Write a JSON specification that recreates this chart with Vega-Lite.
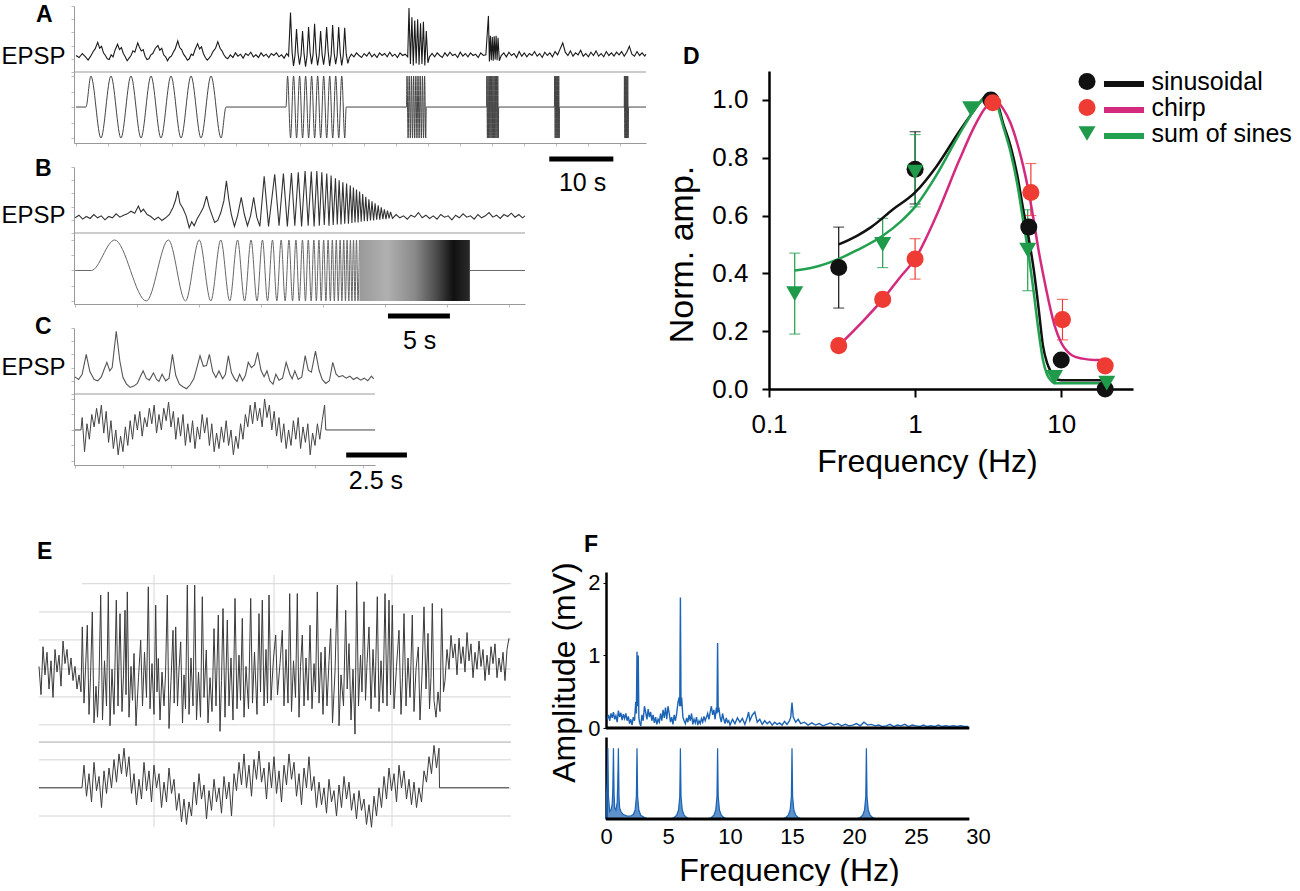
{
  "$schema": "https://vega.github.io/schema/vega-lite/v6.json",
  "padding": {"left": 0, "top": 3, "right": 0, "bottom": 0},
  "config": {
    "font": "Liberation Sans",
    "view": {"stroke": null},
    "point": {"opacity": 1},
    "axis": {"grid": false, "labelFont": "Liberation Sans", "titleFont": "Liberation Sans", "labelColor": "#000", "titleColor": "#000", "titleFontWeight": "normal"},
    "title": {"font": "Liberation Sans", "fontSize": 23, "fontWeight": "bold", "anchor": "start", "frame": "group", "baseline": "alphabetic", "color": "#000"},
    "style": {"group-title": {"fontSize": 23, "fontWeight": "bold"}},
    "legend": {"labelFont": "Liberation Sans", "labelColor": "#000", "symbolOpacity": 1},
    "text": {"font": "Liberation Sans"}
  },
  "spacing": 38,
  "resolve": {"scale": {"color": "independent", "shape": "independent", "stroke": "independent"}},
  "vconcat": [
    {
      "spacing": 16,
      "resolve": {"scale": {"color": "independent", "shape": "independent", "stroke": "independent"}},
      "hconcat": [
        {
          "spacing": 24,
          "bounds": "flush",
          "vconcat": [
            {
              "width": 572, "height": 137,
              "title": {"text": "A", "offset": -21, "dx": -38, "fontSize": 23},
              "resolve": {"scale": {"y": "independent"}},
              "layer": [
                {
                  "data": {"values": [
{"t":0,"v":2.5},{"t":0.5,"v":2.2},{"t":1,"v":2.8},{"t":1.5,"v":2.3},{"t":1.9,"v":1.8},{"t":2.3,"v":2.4},{"t":2.7,"v":3.1},{"t":3,"v":3.5},{"t":3.4,"v":4.5},{"t":3.7,"v":3.6},{"t":4,"v":3.9},{"t":4.3,"v":2.9},{"t":4.6,"v":2.5},{"t":4.9,"v":2.0},{"t":5.2,"v":1.9},{"t":5.5,"v":2.6},{"t":5.8,"v":2.3},{"t":6.1,"v":3.3},{"t":6.5,"v":4.2},{"t":6.8,"v":3.4},{"t":7.1,"v":3.7},{"t":7.4,"v":2.8},{"t":7.7,"v":2.3},{"t":8,"v":1.7},{"t":8.3,"v":2.1},{"t":8.6,"v":2.5},{"t":8.9,"v":3.2},{"t":9.2,"v":3.0},{"t":9.65,"v":4.4},{"t":9.9,"v":3.8},{"t":10.2,"v":3.2},{"t":10.5,"v":3.4},{"t":10.8,"v":2.4},{"t":11.1,"v":1.9},{"t":11.4,"v":2.0},{"t":11.7,"v":2.6},{"t":12,"v":2.8},{"t":12.4,"v":3.6},{"t":12.8,"v":4.0},{"t":13.1,"v":3.3},{"t":13.4,"v":3.6},{"t":13.7,"v":2.6},{"t":14,"v":2.3},{"t":14.3,"v":1.7},{"t":14.6,"v":2.2},{"t":14.9,"v":2.4},{"t":15.2,"v":3.0},{"t":15.5,"v":3.5},{"t":15.9,"v":4.7},{"t":16.2,"v":3.7},{"t":16.5,"v":3.4},{"t":16.8,"v":2.7},{"t":17.1,"v":2.3},{"t":17.4,"v":1.8},{"t":17.7,"v":2.0},{"t":18,"v":2.7},{"t":18.3,"v":2.5},{"t":18.6,"v":3.4},{"t":19,"v":4.3},{"t":19.3,"v":3.5},{"t":19.6,"v":3.8},{"t":19.9,"v":2.8},{"t":20.2,"v":2.2},{"t":20.5,"v":1.8},{"t":20.8,"v":2.1},{"t":21.1,"v":2.5},{"t":21.4,"v":3.1},{"t":21.8,"v":3.6},{"t":22.15,"v":4.6},{"t":22.5,"v":3.6},{"t":22.8,"v":3.2},{"t":23.1,"v":2.6},{"t":23.4,"v":2.2},{"t":23.7,"v":2.0},{"t":24.1,"v":2.6},{"t":24.5,"v":2.2},{"t":24.9,"v":2.9},{"t":25.3,"v":2.4},{"t":25.7,"v":2.7},{"t":26.1,"v":2.1},{"t":26.5,"v":2.8},{"t":26.9,"v":2.5},{"t":27.3,"v":3.0},{"t":27.7,"v":2.3},{"t":28.1,"v":2.6},{"t":28.5,"v":2.2},{"t":28.9,"v":2.9},{"t":29.3,"v":2.4},{"t":29.7,"v":2.7},{"t":30.1,"v":2.2},{"t":30.5,"v":2.8},{"t":30.9,"v":2.5},{"t":31.3,"v":2.9},{"t":31.7,"v":2.3},{"t":32.1,"v":2.6},{"t":32.5,"v":2.1},{"t":32.9,"v":2.8},{"t":33.2,"v":2.4},{"t":33.5,"v":9.0},{"t":33.75,"v":3.0},{"t":33.97,"v":0.9},{"t":34.2,"v":2.5},{"t":34.44,"v":6.5},{"t":34.68,"v":2.8},{"t":34.91,"v":1.1},{"t":35.15,"v":2.6},{"t":35.38,"v":6.2},{"t":35.62,"v":2.7},{"t":35.85,"v":0.8},{"t":36.08,"v":2.4},{"t":36.32,"v":6.8},{"t":36.56,"v":3.0},{"t":36.79,"v":1.2},{"t":37.03,"v":2.7},{"t":37.26,"v":7.3},{"t":37.5,"v":2.9},{"t":37.73,"v":1.0},{"t":37.97,"v":2.5},{"t":38.2,"v":6.2},{"t":38.44,"v":2.6},{"t":38.67,"v":1.1},{"t":38.9,"v":2.8},{"t":39.14,"v":6.8},{"t":39.38,"v":3.1},{"t":39.61,"v":0.9},{"t":39.85,"v":2.6},{"t":40.08,"v":7.1},{"t":40.32,"v":2.8},{"t":40.55,"v":1.2},{"t":40.78,"v":2.5},{"t":41.02,"v":6.8},{"t":41.26,"v":2.9},{"t":41.49,"v":1.0},{"t":41.72,"v":2.4},{"t":41.96,"v":6.7},{"t":42.2,"v":2.7},{"t":42.45,"v":1.3},{"t":42.7,"v":2.2},{"t":43,"v":2.7},{"t":43.4,"v":2.3},{"t":43.8,"v":2.9},{"t":44.2,"v":2.5},{"t":44.6,"v":2.2},{"t":45,"v":2.8},{"t":45.4,"v":2.4},{"t":45.8,"v":3.0},{"t":46.2,"v":2.3},{"t":46.6,"v":2.7},{"t":47,"v":2.2},{"t":47.4,"v":2.9},{"t":47.8,"v":2.5},{"t":48.2,"v":2.8},{"t":48.6,"v":2.3},{"t":49,"v":3.0},{"t":49.4,"v":2.4},{"t":49.8,"v":2.7},{"t":50.2,"v":2.2},{"t":50.6,"v":2.9},{"t":51,"v":2.5},{"t":51.4,"v":2.7},{"t":51.8,"v":2.3},{"t":52,"v":9.7},{"t":52.22,"v":1.2},{"t":52.45,"v":8.3},{"t":52.67,"v":1.0},{"t":52.9,"v":7.8},{"t":53.12,"v":1.3},{"t":53.35,"v":8.0},{"t":53.57,"v":1.1},{"t":53.8,"v":7.4},{"t":54.02,"v":1.2},{"t":54.25,"v":7.6},{"t":54.47,"v":1.0},{"t":54.7,"v":6.2},{"t":54.95,"v":1.4},{"t":55.2,"v":2.3},{"t":55.6,"v":2.8},{"t":56,"v":2.3},{"t":56.4,"v":2.9},{"t":56.8,"v":2.5},{"t":57.2,"v":2.2},{"t":57.6,"v":2.9},{"t":58,"v":2.4},{"t":58.4,"v":3.0},{"t":58.8,"v":2.5},{"t":59.2,"v":2.7},{"t":59.6,"v":2.2},{"t":60,"v":3.0},{"t":60.4,"v":2.4},{"t":60.8,"v":2.8},{"t":61.2,"v":2.3},{"t":61.6,"v":2.9},{"t":62,"v":2.5},{"t":62.4,"v":2.7},{"t":62.8,"v":2.2},{"t":63.2,"v":2.9},{"t":63.6,"v":2.5},{"t":64,"v":2.6},{"t":64.4,"v":8.5},{"t":64.55,"v":1.6},{"t":64.7,"v":5.5},{"t":64.85,"v":1.8},{"t":65,"v":5.3},{"t":65.15,"v":1.7},{"t":65.3,"v":5.4},{"t":65.45,"v":1.9},{"t":65.6,"v":5.5},{"t":65.75,"v":1.8},{"t":65.9,"v":5.2},{"t":66.1,"v":1.7},{"t":66.4,"v":2.5},{"t":66.8,"v":2.9},{"t":67.2,"v":2.3},{"t":67.6,"v":3.0},{"t":68,"v":2.5},{"t":68.4,"v":2.8},{"t":68.8,"v":2.2},{"t":69.2,"v":3.1},{"t":69.6,"v":2.4},{"t":70,"v":2.9},{"t":70.4,"v":2.3},{"t":70.8,"v":2.8},{"t":71.2,"v":2.5},{"t":71.6,"v":3.1},{"t":72,"v":2.4},{"t":72.4,"v":2.8},{"t":72.8,"v":2.2},{"t":73.2,"v":3.0},{"t":73.6,"v":2.5},{"t":74,"v":2.9},{"t":74.4,"v":2.3},{"t":74.8,"v":3.1},{"t":75.2,"v":2.6},{"t":75.6,"v":3.5},{"t":76,"v":4.4},{"t":76.4,"v":3.0},{"t":76.8,"v":2.5},{"t":77.2,"v":3.2},{"t":77.6,"v":2.4},{"t":78,"v":2.9},{"t":78.4,"v":2.6},{"t":78.8,"v":3.3},{"t":79.2,"v":2.4},{"t":79.6,"v":2.8},{"t":80,"v":2.3},{"t":80.4,"v":3.0},{"t":80.8,"v":2.5},{"t":81.2,"v":3.2},{"t":81.6,"v":2.4},{"t":82,"v":2.8},{"t":82.4,"v":2.3},{"t":82.8,"v":3.1},{"t":83.2,"v":2.5},{"t":83.6,"v":2.9},{"t":84,"v":2.4},{"t":84.4,"v":3.0},{"t":84.8,"v":2.6},{"t":85.2,"v":3.1},{"t":85.6,"v":2.4},{"t":86,"v":3.0},{"t":86.4,"v":3.9},{"t":86.8,"v":2.7},{"t":87.2,"v":2.4},{"t":87.6,"v":3.1},{"t":88,"v":2.5},{"t":88.4,"v":2.9},{"t":88.8,"v":2.4},{"t":89,"v":2.7}
                  ]},
                  "mark": {"type": "line", "color": "#1a1a1a", "strokeWidth": 1.1},
                  "encoding": {
                    "x": {"field": "t", "type": "quantitative", "scale": {"domain": [-0.3, 89], "nice": false}, "axis": {"title": null, "labels": false, "tickCount": 14, "tickSize": 3, "domainColor": "#999", "tickColor": "#bbb"}},
                    "y": {"field": "v", "type": "quantitative", "scale": {"domain": [0, 10], "range": [66, 0], "nice": false}, "axis": {"orient": "left", "title": "EPSP", "titleAngle": 0, "titleAlign": "right", "titleBaseline": "middle", "titleX": -9, "titleY": 50, "titleFontSize": 24, "labels": false, "tickCount": 6, "tickSize": 3, "domainColor": "#999", "tickColor": "#bbb"}}
                  }
                },
                {
                  "layer": [
                    {
                      "data": {"values": [
{"t":0,"v":0},{"t":1.56,"v":0},{"t":2.34,"v":1},{"t":3.91,"v":-1},{"t":5.47,"v":1},{"t":7.03,"v":-1},{"t":8.59,"v":1},{"t":10.16,"v":-1},{"t":11.72,"v":1},{"t":13.28,"v":-1},{"t":14.84,"v":1},{"t":16.41,"v":-1},{"t":17.97,"v":1},{"t":19.53,"v":-1},{"t":21.09,"v":1},{"t":22.66,"v":-1},{"t":23.44,"v":0},{"t":32.8,"v":0},
{"t":33.04,"v":1},{"t":33.51,"v":-1},{"t":33.98,"v":1},{"t":34.45,"v":-1},{"t":34.92,"v":1},{"t":35.39,"v":-1},{"t":35.86,"v":1},{"t":36.33,"v":-1},{"t":36.8,"v":1},{"t":37.27,"v":-1},{"t":37.74,"v":1},{"t":38.21,"v":-1},{"t":38.68,"v":1},{"t":39.15,"v":-1},{"t":39.62,"v":1},{"t":40.09,"v":-1},{"t":40.56,"v":1},{"t":41.03,"v":-1},{"t":41.5,"v":1},{"t":41.97,"v":-1},{"t":42.2,"v":0},{"t":51.6,"v":0},
{"t":51.69,"v":1},{"t":51.86,"v":-1},{"t":52.03,"v":1},{"t":52.21,"v":-1},{"t":52.38,"v":1},{"t":52.55,"v":-1},{"t":52.72,"v":1},{"t":52.89,"v":-1},{"t":53.07,"v":1},{"t":53.24,"v":-1},{"t":53.41,"v":1},{"t":53.58,"v":-1},{"t":53.75,"v":1},{"t":53.93,"v":-1},{"t":54.1,"v":1},{"t":54.27,"v":-1},{"t":54.44,"v":1},{"t":54.61,"v":-1},{"t":54.7,"v":0},{"t":64.1,"v":0},
{"t":64.15,"v":1},{"t":64.24,"v":-1},{"t":64.34,"v":1},{"t":64.43,"v":-1},{"t":64.53,"v":1},{"t":64.62,"v":-1},{"t":64.72,"v":1},{"t":64.81,"v":-1},{"t":64.91,"v":1},{"t":65.0,"v":-1},{"t":65.1,"v":1},{"t":65.19,"v":-1},{"t":65.29,"v":1},{"t":65.38,"v":-1},{"t":65.48,"v":1},{"t":65.57,"v":-1},{"t":65.67,"v":1},{"t":65.76,"v":-1},{"t":65.86,"v":1},{"t":65.95,"v":-1},{"t":66.0,"v":0},{"t":74.7,"v":0},
{"t":74.74,"v":1},{"t":74.82,"v":-1},{"t":74.9,"v":1},{"t":74.98,"v":-1},{"t":75.06,"v":1},{"t":75.14,"v":-1},{"t":75.22,"v":1},{"t":75.3,"v":-1},{"t":75.38,"v":1},{"t":75.46,"v":-1},{"t":75.5,"v":0},{"t":85.6,"v":0},
{"t":85.63,"v":1},{"t":85.7,"v":-1},{"t":85.76,"v":1},{"t":85.83,"v":-1},{"t":85.89,"v":1},{"t":85.96,"v":-1},{"t":86.02,"v":1},{"t":86.09,"v":-1},{"t":86.15,"v":1},{"t":86.22,"v":-1},{"t":86.28,"v":0},{"t":89,"v":0}
                      ]},
                      "mark": {"type": "line", "color": "#444", "strokeWidth": 1, "interpolate": "monotone"},
                      "encoding": {
                        "x": {"field": "t", "type": "quantitative", "title": null},
                        "y": {"field": "v", "type": "quantitative", "scale": {"domain": [-1.16, 1.13], "range": [137, 66], "nice": false}, "axis": {"orient": "left", "title": ["Light", "stim."], "titleAngle": 0, "titleAlign": "right", "titleBaseline": "alphabetic", "titleX": -1, "titleY": 92, "titleLineHeight": 31, "titleFontSize": 24, "labels": false, "tickCount": 6, "tickSize": 3, "domainColor": "#999", "tickColor": "#bbb"}}
                      }
                    },
                    {
                      "data": {"values": [{}]},
                      "mark": {"type": "rule", "color": "#999", "strokeWidth": 1},
                      "encoding": {"y": {"datum": 1.13}}
                    },
                    {
                      "data": {"values": [{"t": 73.9, "t2": 83.9, "v": -1.68}]},
                      "mark": {"type": "rule", "color": "#000", "strokeWidth": 5},
                      "encoding": {
                        "x": {"field": "t", "type": "quantitative", "title": null},
                        "x2": {"field": "t2", "title": null},
                        "y": {"field": "v", "type": "quantitative", "title": null}
                      }
                    },
                    {
                      "data": {"values": [{"t": 79.1, "v": -2.45, "label": "10 s"}]},
                      "mark": {"type": "text", "fontSize": 25, "align": "center", "baseline": "middle", "color": "#000"},
                      "encoding": {
                        "x": {"field": "t", "type": "quantitative", "title": null},
                        "y": {"field": "v", "type": "quantitative", "title": null},
                        "text": {"field": "label"}
                      }
                    }
                  ]
                }
              ]
            },
            {
              "width": 451, "height": 137,
              "title": {"text": "B", "offset": -14, "dx": -39, "fontSize": 23},
              "resolve": {"scale": {"y": "independent"}},
              "layer": [
                {
                  "data": {"values": [
{"t":0,"v":2.3},{"t":0.3,"v":2.7},{"t":0.6,"v":2.1},{"t":0.9,"v":2.5},{"t":1.2,"v":2.2},{"t":1.5,"v":2.8},{"t":1.8,"v":2.3},{"t":2.1,"v":2.6},{"t":2.4,"v":2.0},{"t":2.7,"v":2.5},{"t":3.0,"v":2.3},{"t":3.3,"v":2.9},{"t":3.6,"v":2.4},{"t":3.9,"v":2.7},{"t":4.2,"v":2.9},{"t":4.5,"v":3.3},{"t":4.8,"v":3.0},{"t":5.1,"v":4.1},{"t":5.3,"v":3.2},{"t":5.5,"v":3.6},{"t":5.8,"v":2.8},{"t":6.1,"v":2.5},{"t":6.4,"v":2.0},{"t":6.7,"v":2.4},{"t":7.0,"v":1.9},{"t":7.3,"v":2.3},{"t":7.6,"v":2.8},{"t":7.9,"v":3.9},{"t":8.1,"v":5.0},{"t":8.27,"v":6.4},{"t":8.45,"v":4.5},{"t":8.7,"v":3.7},{"t":8.95,"v":2.6},{"t":9.2,"v":0.8},{"t":9.4,"v":1.7},{"t":9.6,"v":1.1},{"t":9.85,"v":2.2},{"t":10.1,"v":3.0},{"t":10.35,"v":3.9},{"t":10.6,"v":5.6},{"t":10.8,"v":4.0},{"t":11.0,"v":2.9},{"t":11.25,"v":1.6},{"t":11.5,"v":1.9},{"t":11.75,"v":3.1},{"t":12.0,"v":4.9},{"t":12.2,"v":7.9},{"t":12.4,"v":5.0},{"t":12.6,"v":2.8},{"t":12.85,"v":1.0},{"t":13.1,"v":2.6},{"t":13.4,"v":5.4},{"t":13.65,"v":2.8},{"t":13.9,"v":1.1},{"t":14.15,"v":2.6},{"t":14.4,"v":5.4},{"t":14.65,"v":2.4},{"t":14.9,"v":1.0},{"t":15.25,"v":8.6},{"t":15.6,"v":1.0},{"t":16.1,"v":8.9},{"t":16.45,"v":1.1},{"t":16.8,"v":9.0},{"t":17.12,"v":1.0},{"t":17.45,"v":9.1},{"t":17.72,"v":1.1},{"t":18.0,"v":9.2},{"t":18.27,"v":1.0},{"t":18.55,"v":9.4},{"t":18.8,"v":1.1},{"t":19.05,"v":9.3},{"t":19.28,"v":1.0},{"t":19.5,"v":9.4},{"t":19.7,"v":1.1},{"t":19.9,"v":9.2},{"t":20.1,"v":1.2},{"t":20.3,"v":9.0},{"t":20.48,"v":1.1},{"t":20.65,"v":8.7},{"t":20.82,"v":1.2},{"t":21.0,"v":8.3},{"t":21.15,"v":1.3},{"t":21.3,"v":8.0},{"t":21.45,"v":1.3},{"t":21.6,"v":7.7},{"t":21.75,"v":1.4},{"t":21.9,"v":7.5},{"t":22.05,"v":1.4},{"t":22.2,"v":7.2},{"t":22.33,"v":1.5},{"t":22.45,"v":6.9},{"t":22.58,"v":1.6},{"t":22.7,"v":6.6},{"t":22.83,"v":1.6},{"t":22.95,"v":6.3},{"t":23.08,"v":1.7},{"t":23.2,"v":5.9},{"t":23.33,"v":1.8},{"t":23.45,"v":5.5},{"t":23.58,"v":1.8},{"t":23.7,"v":5.1},{"t":23.83,"v":1.9},{"t":23.95,"v":4.8},{"t":24.08,"v":1.9},{"t":24.2,"v":4.5},{"t":24.33,"v":2.0},{"t":24.45,"v":4.2},{"t":24.58,"v":2.0},{"t":24.7,"v":3.9},{"t":24.83,"v":2.1},{"t":24.95,"v":3.6},{"t":25.08,"v":2.1},{"t":25.2,"v":3.4},{"t":25.33,"v":2.2},{"t":25.45,"v":3.2},{"t":25.6,"v":2.2},{"t":25.9,"v":2.8},{"t":26.2,"v":2.3},{"t":26.5,"v":2.6},{"t":26.8,"v":2.1},{"t":27.1,"v":2.7},{"t":27.4,"v":2.4},{"t":27.7,"v":3.1},{"t":28.0,"v":2.3},{"t":28.3,"v":2.7},{"t":28.6,"v":2.2},{"t":28.9,"v":2.6},{"t":29.2,"v":2.1},{"t":29.5,"v":2.8},{"t":29.8,"v":2.4},{"t":30.1,"v":2.6},{"t":30.4,"v":2.0},{"t":30.7,"v":2.7},{"t":31.0,"v":2.3},{"t":31.3,"v":2.9},{"t":31.6,"v":2.4},{"t":31.9,"v":2.6},{"t":32.2,"v":2.1},{"t":32.5,"v":2.8},{"t":32.8,"v":2.3},{"t":33.1,"v":2.6},{"t":33.4,"v":3.1},{"t":33.7,"v":2.4},{"t":34.0,"v":2.7},{"t":34.3,"v":2.2},{"t":34.6,"v":2.8},{"t":34.9,"v":2.5},{"t":35.2,"v":3.0},{"t":35.5,"v":2.4},{"t":35.8,"v":2.8},{"t":36.1,"v":2.3},{"t":36.3,"v":2.6}
                  ]},
                  "mark": {"type": "line", "color": "#333", "strokeWidth": 1.1},
                  "encoding": {
                    "x": {"field": "t", "type": "quantitative", "scale": {"domain": [-0.1, 36.3], "nice": false}, "axis": {"title": null, "labels": false, "tickCount": 10, "tickSize": 3, "domainColor": "#999", "tickColor": "#bbb"}},
                    "y": {"field": "v", "type": "quantitative", "scale": {"domain": [0, 10], "range": [66, 0], "nice": false}, "axis": {"orient": "left", "title": "EPSP", "titleAngle": 0, "titleAlign": "right", "titleBaseline": "middle", "titleX": -9, "titleY": 48, "titleFontSize": 24, "labels": false, "tickCount": 6, "tickSize": 3, "domainColor": "#999", "tickColor": "#bbb"}}
                  }
                },
                {
                  "layer": [
                    {
                      "data": {"values": [
{"t":0,"v":0,"seg":1},{"t":1.3,"v":0,"seg":1},{"t":3.18,"v":1,"seg":1},{"t":5.74,"v":-1,"seg":1},{"t":7.52,"v":1,"seg":1},{"t":8.9,"v":-1,"seg":1},{"t":10.01,"v":1,"seg":1},{"t":10.94,"v":-1,"seg":1},{"t":11.75,"v":1,"seg":1},{"t":12.47,"v":-1,"seg":1},{"t":13.1,"v":1,"seg":1},{"t":13.67,"v":-1,"seg":1},{"t":14.19,"v":1,"seg":1},{"t":14.67,"v":-1,"seg":1},{"t":15.11,"v":1,"seg":1},{"t":15.52,"v":-1,"seg":1},{"t":15.92,"v":1,"seg":1},{"t":16.27,"v":-1,"seg":1},{"t":16.62,"v":1,"seg":1},{"t":16.94,"v":-1,"seg":1},{"t":17.25,"v":1,"seg":1},{"t":17.54,"v":-1,"seg":1},{"t":17.81,"v":1,"seg":1},{"t":18.08,"v":-1,"seg":1},{"t":18.34,"v":1,"seg":1},{"t":18.58,"v":-1,"seg":1},{"t":18.81,"v":1,"seg":1},{"t":19.04,"v":-1,"seg":1},{"t":19.26,"v":1,"seg":1},{"t":19.46,"v":-1,"seg":1},{"t":19.67,"v":1,"seg":1},{"t":19.85,"v":-1,"seg":1},{"t":20.05,"v":1,"seg":1},{"t":20.23,"v":-1,"seg":1},{"t":20.41,"v":1,"seg":1},{"t":20.59,"v":-1,"seg":1},{"t":20.75,"v":1,"seg":1},{"t":20.91,"v":-1,"seg":1},{"t":21.07,"v":1,"seg":1},{"t":21.23,"v":-1,"seg":1},{"t":21.38,"v":1,"seg":1},{"t":21.52,"v":-1,"seg":1},{"t":21.67,"v":1,"seg":1},{"t":21.81,"v":-1,"seg":1},{"t":21.94,"v":1,"seg":1},{"t":22.08,"v":-1,"seg":1},{"t":22.21,"v":1,"seg":1},{"t":22.33,"v":-1,"seg":1},{"t":22.46,"v":1,"seg":1},{"t":22.58,"v":-1,"seg":1},{"t":22.7,"v":1,"seg":1},{"t":22.82,"v":-1,"seg":1},{"t":22.94,"v":1,"seg":1},
{"t":31.85,"v":0,"seg":2},{"t":36.3,"v":0,"seg":2}
                      ]},
                      "mark": {"type": "line", "color": "#666", "strokeWidth": 1, "interpolate": "monotone"},
                      "encoding": {
                        "x": {"field": "t", "type": "quantitative", "title": null},
                        "y": {"field": "v", "type": "quantitative", "scale": {"domain": [-1.1, 1.23], "range": [137, 66], "nice": false}, "axis": {"orient": "left", "title": ["Light", "stim."], "titleAngle": 0, "titleAlign": "right", "titleBaseline": "alphabetic", "titleX": -1, "titleY": 93, "titleLineHeight": 32, "titleFontSize": 24, "labels": false, "tickCount": 6, "tickSize": 3, "domainColor": "#999", "tickColor": "#bbb"}},
                        "detail": {"field": "seg"}
                      }
                    },
                    {
                      "data": {"values": [{"t": 22.94, "t2": 31.85, "v": -1, "v2": 1}]},
                      "mark": {"type": "rect", "fill": {"gradient": "linear", "x1": 0, "y1": 0, "x2": 1, "y2": 0, "stops": [{"offset": 0, "color": "#9a9a9a"}, {"offset": 0.25, "color": "#b0b0b0"}, {"offset": 0.5, "color": "#8a8a8a"}, {"offset": 0.7, "color": "#4a4a4a"}, {"offset": 0.85, "color": "#111111"}, {"offset": 1, "color": "#2a2a2a"}]}},
                      "encoding": {
                        "x": {"field": "t", "type": "quantitative", "title": null},
                        "x2": {"field": "t2", "title": null},
                        "y": {"field": "v", "type": "quantitative", "title": null},
                        "y2": {"field": "v2", "title": null}
                      }
                    },
                    {
                      "data": {"values": [{}]},
                      "mark": {"type": "rule", "color": "#999", "strokeWidth": 1},
                      "encoding": {"y": {"datum": 1.23}}
                    },
                    {
                      "data": {"values": [{"t": 25.24, "t2": 30.24, "v": -1.49}]},
                      "mark": {"type": "rule", "color": "#000", "strokeWidth": 5},
                      "encoding": {
                        "x": {"field": "t", "type": "quantitative", "title": null},
                        "x2": {"field": "t2", "title": null},
                        "y": {"field": "v", "type": "quantitative", "title": null}
                      }
                    },
                    {
                      "data": {"values": [{"t": 27.8, "v": -2.32, "label": "5 s"}]},
                      "mark": {"type": "text", "fontSize": 25, "align": "center", "baseline": "middle", "color": "#000"},
                      "encoding": {
                        "x": {"field": "t", "type": "quantitative", "title": null},
                        "y": {"field": "v", "type": "quantitative", "title": null},
                        "text": {"field": "label"}
                      }
                    }
                  ]
                }
              ]
            },
            {
              "width": 301, "height": 137,
              "title": {"text": "C", "offset": -11, "dx": -39, "fontSize": 23},
              "resolve": {"scale": {"y": "independent"}},
              "layer": [
                {
                  "data": {"values": [
{"t":0,"v":2.6},{"t":0.15,"v":2.2},{"t":0.3,"v":3.0},{"t":0.47,"v":6.0},{"t":0.62,"v":3.4},{"t":0.8,"v":2.2},{"t":0.95,"v":2.0},{"t":1.1,"v":2.6},{"t":1.2,"v":3.6},{"t":1.33,"v":4.8},{"t":1.45,"v":3.5},{"t":1.55,"v":4.0},{"t":1.72,"v":9.5},{"t":1.87,"v":5.0},{"t":2.0,"v":2.5},{"t":2.15,"v":1.5},{"t":2.3,"v":1.0},{"t":2.45,"v":1.2},{"t":2.6,"v":1.6},{"t":2.72,"v":2.6},{"t":2.84,"v":3.5},{"t":2.97,"v":2.4},{"t":3.1,"v":2.1},{"t":3.27,"v":3.2},{"t":3.4,"v":2.2},{"t":3.5,"v":1.9},{"t":3.63,"v":3.0},{"t":3.78,"v":2.0},{"t":3.92,"v":2.4},{"t":4.06,"v":6.0},{"t":4.2,"v":2.8},{"t":4.35,"v":1.5},{"t":4.5,"v":1.1},{"t":4.65,"v":0.8},{"t":4.8,"v":1.4},{"t":4.95,"v":2.3},{"t":5.08,"v":4.0},{"t":5.21,"v":5.8},{"t":5.35,"v":4.2},{"t":5.48,"v":4.3},{"t":5.6,"v":6.0},{"t":5.74,"v":3.4},{"t":5.87,"v":2.5},{"t":6.0,"v":3.5},{"t":6.15,"v":2.3},{"t":6.27,"v":3.0},{"t":6.39,"v":5.8},{"t":6.52,"v":3.2},{"t":6.65,"v":2.3},{"t":6.75,"v":1.9},{"t":6.86,"v":3.0},{"t":6.98,"v":2.0},{"t":7.1,"v":2.8},{"t":7.22,"v":4.8},{"t":7.35,"v":4.0},{"t":7.48,"v":4.4},{"t":7.61,"v":6.3},{"t":7.75,"v":3.6},{"t":7.88,"v":2.6},{"t":8.0,"v":3.5},{"t":8.12,"v":2.0},{"t":8.25,"v":1.5},{"t":8.37,"v":3.0},{"t":8.5,"v":2.1},{"t":8.65,"v":2.4},{"t":8.8,"v":4.8},{"t":8.95,"v":3.0},{"t":9.05,"v":2.3},{"t":9.16,"v":3.5},{"t":9.3,"v":2.2},{"t":9.45,"v":2.6},{"t":9.59,"v":5.8},{"t":9.72,"v":3.6},{"t":9.85,"v":3.3},{"t":10.02,"v":6.5},{"t":10.17,"v":3.6},{"t":10.3,"v":2.2},{"t":10.45,"v":1.6},{"t":10.6,"v":2.0},{"t":10.74,"v":4.8},{"t":10.88,"v":3.0},{"t":11.0,"v":2.6},{"t":11.15,"v":2.8},{"t":11.3,"v":2.4},{"t":11.45,"v":2.7},{"t":11.6,"v":2.2},{"t":11.75,"v":2.5},{"t":11.9,"v":2.1},{"t":12.05,"v":2.4},{"t":12.2,"v":2.0},{"t":12.35,"v":2.7},{"t":12.45,"v":2.3}
                  ]},
                  "mark": {"type": "line", "color": "#555", "strokeWidth": 1.1},
                  "encoding": {
                    "x": {"field": "t", "type": "quantitative", "scale": {"domain": [-0.04, 12.5], "nice": false}, "axis": {"title": null, "labels": false, "tickCount": 8, "tickSize": 3, "domainColor": "#999", "tickColor": "#bbb"}},
                    "y": {"field": "v", "type": "quantitative", "scale": {"domain": [0, 10], "range": [66, 0], "nice": false}, "axis": {"orient": "left", "title": "EPSP", "titleAngle": 0, "titleAlign": "right", "titleBaseline": "middle", "titleX": -9, "titleY": 39, "titleFontSize": 24, "labels": false, "tickCount": 6, "tickSize": 3, "domainColor": "#999", "tickColor": "#bbb"}}
                  }
                },
                {
                  "layer": [
                    {
                      "data": {"values": [
{"t":0,"v":0},{"t":0.25,"v":0},{"t":0.3,"v":0.4},{"t":0.4,"v":-0.7},{"t":0.5,"v":0.2},{"t":0.6,"v":-0.3},{"t":0.7,"v":0.5},{"t":0.8,"v":0.1},{"t":0.9,"v":0.7},{"t":1.0,"v":0.2},{"t":1.1,"v":0.8},{"t":1.2,"v":-0.1},{"t":1.3,"v":0.6},{"t":1.4,"v":-0.4},{"t":1.5,"v":0.3},{"t":1.6,"v":-0.6},{"t":1.7,"v":0.0},{"t":1.8,"v":-0.8},{"t":1.9,"v":-0.2},{"t":2.0,"v":-0.7},{"t":2.1,"v":0.1},{"t":2.2,"v":-0.5},{"t":2.3,"v":0.3},{"t":2.4,"v":-0.3},{"t":2.5,"v":0.5},{"t":2.6,"v":0.0},{"t":2.7,"v":0.6},{"t":2.8,"v":-0.2},{"t":2.9,"v":0.4},{"t":3.0,"v":0.1},{"t":3.1,"v":0.7},{"t":3.2,"v":0.2},{"t":3.3,"v":0.8},{"t":3.4,"v":-0.1},{"t":3.5,"v":0.5},{"t":3.6,"v":0.0},{"t":3.7,"v":0.7},{"t":3.8,"v":0.3},{"t":3.9,"v":0.9},{"t":4.0,"v":0.1},{"t":4.1,"v":0.6},{"t":4.2,"v":-0.3},{"t":4.3,"v":0.4},{"t":4.4,"v":-0.2},{"t":4.5,"v":0.5},{"t":4.6,"v":-0.5},{"t":4.7,"v":0.2},{"t":4.8,"v":-0.4},{"t":4.9,"v":0.3},{"t":5.0,"v":-0.6},{"t":5.1,"v":0.1},{"t":5.2,"v":-0.3},{"t":5.3,"v":0.5},{"t":5.4,"v":-0.1},{"t":5.5,"v":0.4},{"t":5.6,"v":-0.5},{"t":5.7,"v":0.2},{"t":5.8,"v":-0.7},{"t":5.9,"v":-0.1},{"t":6.0,"v":-0.6},{"t":6.1,"v":0.1},{"t":6.2,"v":-0.4},{"t":6.3,"v":0.3},{"t":6.4,"v":-0.5},{"t":6.5,"v":0.0},{"t":6.6,"v":-0.8},{"t":6.7,"v":-0.2},{"t":6.8,"v":-0.6},{"t":6.9,"v":0.2},{"t":7.0,"v":-0.3},{"t":7.1,"v":0.5},{"t":7.2,"v":0.1},{"t":7.3,"v":0.8},{"t":7.4,"v":0.2},{"t":7.5,"v":0.9},{"t":7.6,"v":0.3},{"t":7.7,"v":0.7},{"t":7.8,"v":0.1},{"t":7.9,"v":1.0},{"t":8.0,"v":0.4},{"t":8.1,"v":0.8},{"t":8.2,"v":0.0},{"t":8.3,"v":0.6},{"t":8.4,"v":-0.2},{"t":8.5,"v":0.4},{"t":8.6,"v":-0.4},{"t":8.7,"v":0.2},{"t":8.8,"v":-0.6},{"t":8.9,"v":0.0},{"t":9.0,"v":-0.5},{"t":9.1,"v":0.3},{"t":9.2,"v":-0.3},{"t":9.3,"v":0.4},{"t":9.4,"v":-0.6},{"t":9.5,"v":0.1},{"t":9.6,"v":-0.4},{"t":9.7,"v":0.2},{"t":9.8,"v":-0.8},{"t":9.9,"v":-0.1},{"t":10.0,"v":-0.5},{"t":10.1,"v":0.2},{"t":10.2,"v":-0.3},{"t":10.3,"v":0.3},{"t":10.4,"v":0.8},{"t":10.45,"v":0},{"t":12.5,"v":0}
                      ]},
                      "mark": {"type": "line", "color": "#444", "strokeWidth": 1},
                      "encoding": {
                        "x": {"field": "t", "type": "quantitative", "title": null},
                        "y": {"field": "v", "type": "quantitative", "scale": {"domain": [-1.13, 1.16], "range": [137, 66], "nice": false}, "axis": {"orient": "left", "title": ["Light", "stim."], "titleAngle": 0, "titleAlign": "right", "titleBaseline": "alphabetic", "titleX": -1, "titleY": 92, "titleLineHeight": 32, "titleFontSize": 24, "labels": false, "tickCount": 6, "tickSize": 3, "domainColor": "#999", "tickColor": "#bbb"}}
                      }
                    },
                    {
                      "data": {"values": [{}]},
                      "mark": {"type": "rule", "color": "#999", "strokeWidth": 1},
                      "encoding": {"y": {"datum": 1.16}}
                    },
                    {
                      "data": {"values": [{"t": 11.3, "t2": 13.83, "v": -0.81}]},
                      "mark": {"type": "rule", "color": "#000", "strokeWidth": 5},
                      "encoding": {
                        "x": {"field": "t", "type": "quantitative", "title": null},
                        "x2": {"field": "t2", "title": null},
                        "y": {"field": "v", "type": "quantitative", "title": null}
                      }
                    },
                    {
                      "data": {"values": [{"t": 12.54, "v": -1.65, "label": "2.5 s"}]},
                      "mark": {"type": "text", "fontSize": 25, "align": "center", "baseline": "middle", "color": "#000"},
                      "encoding": {
                        "x": {"field": "t", "type": "quantitative", "title": null},
                        "y": {"field": "v", "type": "quantitative", "title": null},
                        "text": {"field": "label"}
                      }
                    }
                  ]
                }
              ]
            }
          ]
        },
        {
          "width": 364, "height": 383,
          "title": {"text": "D", "offset": -63, "dx": -86, "fontSize": 23},
          "layer": [
            {
              "data": {"values": [
{"s":"sinusoidal","f":0.3,"lo":0.28,"hi":0.56},{"s":"sinusoidal","f":1,"lo":0.64,"hi":0.89},
{"s":"chirp","f":1,"lo":0.38,"hi":0.52},{"s":"chirp","f":6.2,"lo":0.6,"hi":0.78},{"s":"chirp","f":10.2,"lo":0.17,"hi":0.31},
{"s":"sum of sines","f":0.15,"lo":0.19,"hi":0.47},{"s":"sum of sines","f":0.6,"lo":0.42,"hi":0.59},{"s":"sum of sines","f":1,"lo":0.63,"hi":0.88},{"s":"sum of sines","f":5.9,"lo":0.34,"hi":0.62}
              ]},
              "layer": [
                {
                  "mark": {"type": "rule", "strokeWidth": 1.2},
                  "encoding": {
                    "x": {"field": "f", "type": "quantitative", "scale": {"type": "log", "domain": [0.1, 31], "nice": false}, "axis": {"title": "Frequency (Hz)", "titleFontSize": 32, "titleX": 158, "titleY": 82, "titleBaseline": "alphabetic", "values": [0.1, 1, 10], "format": "~g", "labelFontSize": 26, "labelPadding": 14, "labelFlush": false, "tickSize": 8, "tickWidth": 2, "tickColor": "#000", "domainColor": "#000", "domainWidth": 2.5}},
                    "y": {"field": "lo", "type": "quantitative", "scale": {"domain": [0, 1.1], "range": [383, 65], "nice": false}, "axis": {"title": "Norm. amp.", "titleFontSize": 34, "titleY": 248, "titlePadding": 12, "values": [0, 0.2, 0.4, 0.6, 0.8, 1.0], "format": ".1f", "labelFontSize": 26, "labelPadding": 14, "tickSize": 7, "tickWidth": 2, "tickColor": "#000", "domainColor": "#000", "domainWidth": 2.5}},
                    "y2": {"field": "hi"},
                    "color": {"field": "s", "type": "nominal"}
                  }
                },
                {
                  "mark": {"type": "tick", "orient": "horizontal", "size": 11, "thickness": 1.2},
                  "encoding": {
                    "x": {"field": "f", "type": "quantitative"},
                    "y": {"field": "lo", "type": "quantitative"},
                    "color": {"field": "s", "type": "nominal"}
                  }
                },
                {
                  "mark": {"type": "tick", "orient": "horizontal", "size": 11, "thickness": 1.2},
                  "encoding": {
                    "x": {"field": "f", "type": "quantitative"},
                    "y": {"field": "hi", "type": "quantitative"},
                    "color": {"field": "s", "type": "nominal"}
                  }
                }
              ]
            },
            {
              "data": {"values": [
{"series":"L1","f":0.3,"y":0.5},{"series":"L1","f":0.4,"y":0.53},{"series":"L1","f":0.5,"y":0.56},{"series":"L1","f":0.7,"y":0.62},{"series":"L1","f":1,"y":0.68},{"series":"L1","f":1.4,"y":0.77},{"series":"L1","f":2,"y":0.89},{"series":"L1","f":2.5,"y":0.96},{"series":"L1","f":3,"y":1.01},{"series":"L1","f":3.3,"y":1.02},{"series":"L1","f":3.6,"y":1.0},{"series":"L1","f":4,"y":0.92},{"series":"L1","f":4.5,"y":0.84},{"series":"L1","f":5,"y":0.74},{"series":"L1","f":5.5,"y":0.62},{"series":"L1","f":6,"y":0.52},{"series":"L1","f":6.5,"y":0.41},{"series":"L1","f":7,"y":0.28},{"series":"L1","f":7.5,"y":0.15},{"series":"L1","f":8,"y":0.09},{"series":"L1","f":8.5,"y":0.06},{"series":"L1","f":9,"y":0.04},{"series":"L1","f":10,"y":0.03},{"series":"L1","f":20,"y":0.03},
{"series":"L2","f":0.3,"y":0.15},{"series":"L2","f":0.45,"y":0.24},{"series":"L2","f":0.6,"y":0.31},{"series":"L2","f":0.8,"y":0.39},{"series":"L2","f":1,"y":0.45},{"series":"L2","f":1.4,"y":0.6},{"series":"L2","f":2,"y":0.79},{"series":"L2","f":2.5,"y":0.9},{"series":"L2","f":3,"y":0.97},{"series":"L2","f":3.5,"y":1.0},{"series":"L2","f":4,"y":0.97},{"series":"L2","f":4.5,"y":0.92},{"series":"L2","f":5,"y":0.85},{"series":"L2","f":5.5,"y":0.77},{"series":"L2","f":6,"y":0.68},{"series":"L2","f":6.5,"y":0.58},{"series":"L2","f":7,"y":0.48},{"series":"L2","f":7.5,"y":0.4},{"series":"L2","f":8,"y":0.33},{"series":"L2","f":9,"y":0.22},{"series":"L2","f":10,"y":0.16},{"series":"L2","f":11,"y":0.13},{"series":"L2","f":12,"y":0.115},{"series":"L2","f":14,"y":0.105},{"series":"L2","f":17,"y":0.1},{"series":"L2","f":20,"y":0.1},
{"series":"L3","f":0.15,"y":0.41},{"series":"L3","f":0.2,"y":0.42},{"series":"L3","f":0.3,"y":0.45},{"series":"L3","f":0.4,"y":0.48},{"series":"L3","f":0.6,"y":0.53},{"series":"L3","f":0.8,"y":0.58},{"series":"L3","f":1,"y":0.63},{"series":"L3","f":1.4,"y":0.74},{"series":"L3","f":2,"y":0.88},{"series":"L3","f":2.5,"y":0.96},{"series":"L3","f":3,"y":1.01},{"series":"L3","f":3.2,"y":1.02},{"series":"L3","f":3.6,"y":0.99},{"series":"L3","f":4,"y":0.91},{"series":"L3","f":4.5,"y":0.82},{"series":"L3","f":5,"y":0.71},{"series":"L3","f":5.5,"y":0.58},{"series":"L3","f":6,"y":0.46},{"series":"L3","f":6.5,"y":0.33},{"series":"L3","f":7,"y":0.2},{"series":"L3","f":7.5,"y":0.1},{"series":"L3","f":8,"y":0.05},{"series":"L3","f":8.5,"y":0.03},{"series":"L3","f":9,"y":0.02},{"series":"L3","f":20,"y":0.02}
              ]},
              "mark": {"type": "line", "strokeWidth": 2.5, "interpolate": "monotone"},
              "encoding": {
                "x": {"field": "f", "type": "quantitative"},
                "y": {"field": "y", "type": "quantitative"},
                "stroke": {"field": "series", "type": "nominal", "scale": {"domain": ["L1", "L2", "L3"], "range": ["#111111", "#d42a7e", "#23a04f"]}, "legend": {"orient": "none", "legendX": 342.5, "legendY": 65.5, "title": null, "padding": 0, "symbolType": "M-2.35,0L2.35,0", "symbolSize": 290, "symbolStrokeWidth": 6, "symbolOpacity": 1, "labelExpr": "''", "labelFontSize": 25, "rowPadding": 0}}
              }
            },
            {
              "data": {"values": [
{"s":"sinusoidal","f":0.3,"y":0.42},{"s":"sinusoidal","f":1,"y":0.76},{"s":"sinusoidal","f":3.3,"y":1.0},{"s":"sinusoidal","f":6,"y":0.56},{"s":"sinusoidal","f":10,"y":0.1},{"s":"sinusoidal","f":20,"y":0.0},
{"s":"chirp","f":0.3,"y":0.15},{"s":"chirp","f":0.6,"y":0.31},{"s":"chirp","f":1,"y":0.45},{"s":"chirp","f":3.4,"y":0.99},{"s":"chirp","f":6.2,"y":0.68},{"s":"chirp","f":10.2,"y":0.24},{"s":"chirp","f":20,"y":0.08},
{"s":"sum of sines","f":0.15,"y":0.33},{"s":"sum of sines","f":0.6,"y":0.5},{"s":"sum of sines","f":1,"y":0.75},{"s":"sum of sines","f":2.4,"y":0.97},{"s":"sum of sines","f":5.9,"y":0.48},{"s":"sum of sines","f":9,"y":0.04},{"s":"sum of sines","f":20.5,"y":0.02}
              ]},
              "mark": {"type": "point", "filled": true, "size": 290, "opacity": 1},
              "encoding": {
                "x": {"field": "f", "type": "quantitative"},
                "y": {"field": "y", "type": "quantitative"},
                "color": {"field": "s", "type": "nominal", "scale": {"domain": ["sinusoidal", "chirp", "sum of sines"], "range": ["#111111", "#ee3b33", "#1f9a4b"]}, "legend": {"orient": "none", "legendX": 305.5, "legendY": 63, "title": null, "padding": 0, "symbolSize": 290, "symbolStrokeWidth": 0, "symbolOpacity": 1, "labelFontSize": 25, "labelOffset": 52, "rowPadding": 0}},
                "shape": {"field": "s", "type": "nominal", "scale": {"domain": ["sinusoidal", "chirp", "sum of sines"], "range": ["circle", "circle", "triangle-down"]}}
              }
            }
          ]
        }
      ]
    },
    {
      "spacing": 36,
      "resolve": {"scale": {"color": "independent", "shape": "independent", "stroke": "independent"}},
      "hconcat": [
        {
          "width": 437, "height": 255,
          "title": {"text": "E", "offset": 8, "dx": -37, "fontSize": 23},
          "layer": [
            {
              "data": {"values": [
{"gy":8.23,"x0":4.3,"x1":47.2},{"gy":7.23,"x0":0,"x1":47.2},{"gy":6.24,"x0":0,"x1":47.2},{"gy":5.21,"x0":0,"x1":47.2},{"gy":4.22,"x0":0,"x1":47.2},{"gy":3.23,"x0":0,"x1":47.2},{"gy":1.99,"x0":0,"x1":47.2},{"gy":0.99,"x0":0,"x1":47.2},{"gy":0.0,"x0":0,"x1":47.2}
              ]},
              "mark": {"type": "rule", "strokeWidth": 1, "color": "#d4d4d4"},
              "encoding": {
                "x": {"field": "x0", "type": "quantitative", "scale": {"domain": [0, 47.2], "range": [-35, 437], "nice": false}, "axis": null},
                "x2": {"field": "x1"},
                "y": {"field": "gy", "type": "quantitative", "scale": {"domain": [0, 9], "range": [244, -10], "nice": false}, "axis": null}
              }
            },
            {
              "data": {"values": [{"gy":2.62,"x0":0,"x1":47.2}]},
              "mark": {"type": "rule", "strokeWidth": 1, "color": "#a8a8a8"},
              "encoding": {
                "x": {"field": "x0", "type": "quantitative", "axis": null},
                "x2": {"field": "x1"},
                "y": {"field": "gy", "type": "quantitative", "axis": null}
              }
            },
            {
              "data": {"values": [{"gx":11.5,"y0":-0.39,"y1":8.55},{"gx":23.5,"y0":-0.39,"y1":8.55},{"gx":35.3,"y0":-0.39,"y1":8.55}]},
              "mark": {"type": "rule", "strokeWidth": 1, "color": "#d8d8d8"},
              "encoding": {
                "x": {"field": "gx", "type": "quantitative", "axis": null},
                "y": {"field": "y0", "type": "quantitative", "axis": null},
                "y2": {"field": "y1"}
              }
            },
            {
              "data": {"values": [
{"t":0,"v":5.3},{"t":0.2,"v":4.3},{"t":0.4,"v":6.0},{"t":0.6,"v":5.0},{"t":0.8,"v":5.8},{"t":1.0,"v":4.5},{"t":1.2,"v":5.5},{"t":1.4,"v":4.2},{"t":1.6,"v":5.9},{"t":1.8,"v":5.1},{"t":2.0,"v":5.7},{"t":2.2,"v":4.6},{"t":2.4,"v":6.2},{"t":2.6,"v":5.4},{"t":2.8,"v":5.9},{"t":3.0,"v":5.0},{"t":3.2,"v":5.6},{"t":3.4,"v":4.8},{"t":3.6,"v":5.3},{"t":3.8,"v":4.5},{"t":4.0,"v":5.0},{"t":4.2,"v":4.4},
{"t":4.33,"v":6.7},{"t":4.5,"v":4.0},{"t":4.65,"v":5.2},{"t":4.83,"v":6.76},{"t":5.0,"v":3.6},{"t":5.15,"v":4.9},{"t":5.33,"v":7.23},{"t":5.5,"v":3.3},{"t":5.7,"v":4.6},{"t":5.85,"v":3.5},{"t":6.0,"v":4.8},{"t":6.17,"v":7.83},{"t":6.35,"v":3.4},{"t":6.55,"v":5.5},{"t":6.75,"v":3.9},{"t":6.93,"v":7.94},{"t":7.1,"v":3.2},{"t":7.3,"v":5.2},{"t":7.5,"v":3.6},{"t":7.73,"v":7.65},{"t":7.9,"v":3.9},{"t":8.1,"v":7.17},{"t":8.3,"v":3.7},{"t":8.45,"v":5.0},{"t":8.6,"v":7.29},{"t":8.7,"v":4.3},{"t":8.83,"v":7.94},{"t":9.0,"v":3.5},{"t":9.2,"v":5.3},{"t":9.35,"v":4.1},{"t":9.5,"v":5.76},{"t":9.7,"v":3.2},{"t":9.95,"v":4.9},{"t":10.17,"v":6.23},{"t":10.35,"v":3.9},{"t":10.55,"v":5.8},{"t":10.75,"v":4.2},{"t":10.93,"v":8.12},{"t":11.1,"v":3.8},{"t":11.3,"v":5.4},{"t":11.5,"v":3.6},{"t":11.67,"v":7.47},{"t":11.8,"v":4.4},{"t":11.93,"v":5.58},{"t":12.1,"v":3.4},{"t":12.3,"v":5.1},{"t":12.5,"v":3.9},{"t":12.65,"v":5.0},{"t":12.83,"v":7.83},{"t":13.0,"v":3.1},{"t":13.2,"v":4.8},{"t":13.4,"v":6.58},{"t":13.52,"v":4.0},{"t":13.67,"v":6.7},{"t":13.85,"v":3.9},{"t":14.0,"v":5.2},{"t":14.17,"v":6.17},{"t":14.35,"v":3.3},{"t":14.5,"v":5.0},{"t":14.65,"v":3.8},{"t":14.83,"v":8.18},{"t":15.0,"v":3.6},{"t":15.2,"v":5.6},{"t":15.4,"v":3.9},{"t":15.57,"v":8.18},{"t":15.75,"v":3.4},{"t":15.95,"v":5.1},{"t":16.15,"v":3.5},{"t":16.33,"v":7.77},{"t":16.5,"v":4.2},{"t":16.73,"v":5.88},{"t":16.9,"v":3.3},{"t":17.1,"v":4.9},{"t":17.3,"v":3.7},{"t":17.5,"v":6.64},{"t":17.7,"v":3.9},{"t":17.93,"v":7.12},{"t":18.1,"v":3.0},{"t":18.25,"v":4.8},{"t":18.4,"v":7.35},{"t":18.6,"v":3.5},{"t":18.83,"v":6.94},{"t":19.0,"v":3.9},{"t":19.2,"v":5.6},{"t":19.4,"v":3.4},{"t":19.6,"v":7.71},{"t":19.8,"v":3.8},{"t":20.0,"v":5.7},{"t":20.15,"v":4.1},{"t":20.33,"v":7.0},{"t":20.5,"v":3.5},{"t":20.7,"v":5.3},{"t":20.95,"v":3.8},{"t":21.17,"v":7.71},{"t":21.35,"v":4.0},{"t":21.55,"v":5.8},{"t":21.8,"v":3.6},{"t":22.0,"v":7.17},{"t":22.15,"v":4.4},{"t":22.33,"v":7.65},{"t":22.5,"v":3.9},{"t":22.7,"v":5.9},{"t":22.85,"v":4.0},{"t":23.0,"v":7.83},{"t":23.2,"v":4.1},{"t":23.45,"v":5.6},{"t":23.67,"v":6.41},{"t":23.85,"v":4.3},{"t":24.1,"v":5.4},{"t":24.33,"v":6.58},{"t":24.5,"v":3.9},{"t":24.7,"v":5.9},{"t":24.9,"v":4.0},{"t":25.07,"v":7.88},{"t":25.25,"v":3.7},{"t":25.45,"v":5.5},{"t":25.65,"v":4.2},{"t":25.83,"v":7.88},{"t":26.0,"v":3.5},{"t":26.15,"v":5.3},{"t":26.33,"v":6.41},{"t":26.5,"v":3.9},{"t":26.7,"v":5.6},{"t":26.9,"v":4.1},{"t":27.1,"v":6.76},{"t":27.3,"v":3.8},{"t":27.5,"v":5.4},{"t":27.65,"v":4.4},{"t":27.83,"v":7.94},{"t":28.0,"v":4.0},{"t":28.2,"v":5.8},{"t":28.4,"v":3.6},{"t":28.6,"v":5.99},{"t":28.8,"v":3.9},{"t":29.0,"v":5.5},{"t":29.17,"v":6.64},{"t":29.35,"v":3.3},{"t":29.6,"v":5.1},{"t":29.83,"v":8.18},{"t":30.0,"v":3.2},{"t":30.2,"v":5.0},{"t":30.45,"v":3.9},{"t":30.67,"v":7.29},{"t":30.82,"v":4.5},{"t":31.0,"v":6.11},{"t":31.2,"v":3.4},{"t":31.4,"v":5.2},{"t":31.6,"v":2.9},{"t":31.77,"v":8.3},{"t":31.95,"v":3.9},{"t":32.15,"v":5.7},{"t":32.3,"v":4.4},{"t":32.5,"v":7.59},{"t":32.65,"v":4.1},{"t":32.8,"v":5.4},{"t":33.0,"v":6.7},{"t":33.2,"v":3.8},{"t":33.4,"v":5.9},{"t":33.6,"v":4.2},{"t":33.83,"v":7.77},{"t":34.0,"v":3.7},{"t":34.2,"v":5.5},{"t":34.4,"v":4.0},{"t":34.6,"v":7.88},{"t":34.8,"v":3.9},{"t":35.0,"v":7.65},{"t":35.15,"v":4.3},{"t":35.33,"v":7.47},{"t":35.5,"v":3.8},{"t":35.75,"v":5.3},{"t":36.0,"v":6.58},{"t":36.2,"v":3.6},{"t":36.35,"v":4.9},{"t":36.5,"v":7.17},{"t":36.7,"v":3.9},{"t":36.9,"v":5.6},{"t":37.1,"v":4.2},{"t":37.33,"v":7.12},{"t":37.5,"v":3.7},{"t":37.7,"v":5.2},{"t":37.93,"v":5.99},{"t":38.1,"v":3.4},{"t":38.3,"v":5.0},{"t":38.5,"v":7.41},{"t":38.7,"v":4.5},{"t":38.9,"v":6.47},{"t":39.05,"v":3.8},{"t":39.2,"v":4.9},{"t":39.33,"v":7.53},{"t":39.5,"v":4.1},{"t":39.7,"v":3.5},{"t":39.9,"v":4.4},{"t":40.1,"v":3.7},{"t":40.27,"v":7.35},{"t":40.45,"v":4.4},{"t":40.6,"v":4.8},
{"t":40.8,"v":5.9},{"t":41.0,"v":5.2},{"t":41.2,"v":6.4},{"t":41.4,"v":5.6},{"t":41.6,"v":6.1},{"t":41.8,"v":5.0},{"t":42.0,"v":6.3},{"t":42.2,"v":5.4},{"t":42.4,"v":6.0},{"t":42.6,"v":5.1},{"t":42.8,"v":6.5},{"t":43.0,"v":5.5},{"t":43.2,"v":6.1},{"t":43.4,"v":4.9},{"t":43.6,"v":5.8},{"t":43.8,"v":5.2},{"t":44.0,"v":6.2},{"t":44.2,"v":5.3},{"t":44.4,"v":5.9},{"t":44.6,"v":4.8},{"t":44.8,"v":5.7},{"t":45.0,"v":5.0},{"t":45.2,"v":6.0},{"t":45.4,"v":5.4},{"t":45.6,"v":6.1},{"t":45.8,"v":4.9},{"t":46.0,"v":5.6},{"t":46.2,"v":5.1},{"t":46.4,"v":5.8},{"t":46.6,"v":4.8},{"t":46.8,"v":5.9},{"t":47.0,"v":6.3}
              ]},
              "mark": {"type": "line", "color": "#3a3a3a", "strokeWidth": 1},
              "encoding": {
                "x": {"field": "t", "type": "quantitative", "axis": null},
                "y": {"field": "v", "type": "quantitative", "axis": null}
              }
            },
            {
              "data": {"values": [
{"t":0,"v":1.0},{"t":4.3,"v":1.0},{"t":4.5,"v":1.8},{"t":4.75,"v":0.7},{"t":5.0,"v":1.5},{"t":5.25,"v":0.5},{"t":5.5,"v":1.9},{"t":5.75,"v":0.9},{"t":6.0,"v":1.4},{"t":6.25,"v":0.3},{"t":6.5,"v":1.6},{"t":6.75,"v":0.8},{"t":7.0,"v":1.7},{"t":7.25,"v":1.0},{"t":7.5,"v":2.0},{"t":7.75,"v":1.2},{"t":8.0,"v":2.2},{"t":8.25,"v":1.5},{"t":8.5,"v":2.4},{"t":8.75,"v":1.4},{"t":9.0,"v":2.1},{"t":9.25,"v":0.8},{"t":9.5,"v":1.5},{"t":9.75,"v":0.4},{"t":10.0,"v":1.3},{"t":10.25,"v":0.6},{"t":10.5,"v":1.9},{"t":10.75,"v":0.9},{"t":11.0,"v":1.6},{"t":11.25,"v":0.5},{"t":11.5,"v":1.8},{"t":11.75,"v":1.0},{"t":12.0,"v":1.5},{"t":12.25,"v":0.3},{"t":12.5,"v":1.2},{"t":12.75,"v":0.5},{"t":13.0,"v":1.7},{"t":13.25,"v":0.8},{"t":13.5,"v":1.3},{"t":13.75,"v":0.2},{"t":14.0,"v":0.8},{"t":14.25,"v":-0.2},{"t":14.5,"v":0.6},{"t":14.75,"v":-0.3},{"t":15.0,"v":0.5},{"t":15.25,"v":0.0},{"t":15.5,"v":1.2},{"t":15.75,"v":0.4},{"t":16.0,"v":1.5},{"t":16.25,"v":0.6},{"t":16.5,"v":1.1},{"t":16.75,"v":-0.1},{"t":17.0,"v":0.9},{"t":17.25,"v":0.2},{"t":17.5,"v":1.3},{"t":17.75,"v":0.5},{"t":18.0,"v":1.0},{"t":18.25,"v":0.1},{"t":18.5,"v":1.4},{"t":18.75,"v":0.6},{"t":19.0,"v":1.2},{"t":19.25,"v":0.0},{"t":19.5,"v":1.5},{"t":19.75,"v":0.9},{"t":20.0,"v":1.9},{"t":20.25,"v":1.1},{"t":20.5,"v":2.2},{"t":20.75,"v":1.0},{"t":21.0,"v":1.8},{"t":21.25,"v":0.7},{"t":21.5,"v":2.0},{"t":21.75,"v":1.3},{"t":22.0,"v":2.3},{"t":22.25,"v":1.2},{"t":22.5,"v":1.7},{"t":22.75,"v":0.6},{"t":23.0,"v":1.9},{"t":23.25,"v":1.0},{"t":23.5,"v":2.1},{"t":23.75,"v":0.8},{"t":24.0,"v":1.6},{"t":24.25,"v":0.5},{"t":24.5,"v":1.8},{"t":24.75,"v":1.1},{"t":25.0,"v":2.2},{"t":25.25,"v":1.3},{"t":25.5,"v":1.9},{"t":25.75,"v":0.7},{"t":26.0,"v":1.5},{"t":26.25,"v":0.4},{"t":26.5,"v":1.7},{"t":26.75,"v":1.0},{"t":27.0,"v":2.1},{"t":27.25,"v":0.9},{"t":27.5,"v":1.4},{"t":27.75,"v":0.3},{"t":28.0,"v":1.2},{"t":28.25,"v":0.4},{"t":28.5,"v":1.0},{"t":28.75,"v":0.1},{"t":29.0,"v":1.3},{"t":29.25,"v":0.5},{"t":29.5,"v":0.9},{"t":29.75,"v":0.0},{"t":30.0,"v":1.1},{"t":30.25,"v":0.3},{"t":30.5,"v":1.4},{"t":30.75,"v":0.6},{"t":31.0,"v":1.2},{"t":31.25,"v":0.2},{"t":31.5,"v":0.8},{"t":31.75,"v":-0.1},{"t":32.0,"v":0.9},{"t":32.25,"v":0.2},{"t":32.5,"v":0.6},{"t":32.75,"v":-0.3},{"t":33.0,"v":0.4},{"t":33.25,"v":-0.4},{"t":33.5,"v":0.7},{"t":33.75,"v":0.0},{"t":34.0,"v":1.0},{"t":34.25,"v":0.3},{"t":34.5,"v":1.4},{"t":34.75,"v":0.6},{"t":35.0,"v":1.7},{"t":35.25,"v":0.9},{"t":35.5,"v":1.5},{"t":35.75,"v":0.5},{"t":36.0,"v":1.8},{"t":36.25,"v":1.0},{"t":36.5,"v":1.6},{"t":36.75,"v":0.6},{"t":37.0,"v":1.3},{"t":37.25,"v":0.4},{"t":37.5,"v":1.2},{"t":37.75,"v":0.3},{"t":38.0,"v":1.0},{"t":38.25,"v":0.5},{"t":38.5,"v":1.6},{"t":38.75,"v":1.2},{"t":39.0,"v":2.1},{"t":39.25,"v":1.5},{"t":39.5,"v":2.5},{"t":39.75,"v":1.7},{"t":40.0,"v":2.4},{"t":40.05,"v":1.0},{"t":47.0,"v":1.0}
              ]},
              "mark": {"type": "line", "color": "#3a3a3a", "strokeWidth": 1},
              "encoding": {
                "x": {"field": "t", "type": "quantitative", "axis": null},
                "y": {"field": "v", "type": "quantitative", "axis": null}
              }
            }
          ]
        },
        {
          "width": 372, "height": 247,
          "title": {"text": "F", "offset": 5, "dx": -22, "fontSize": 23},
          "resolve": {"scale": {"y": "independent"}},
          "layer": [
            {
              "layer": [
                {
                  "data": {"values": [
{"f":0.1,"a":0.12},{"f":0.2,"a":0.18},{"f":0.3,"a":0.1},{"f":0.4,"a":0.2},{"f":0.5,"a":0.14},{"f":0.6,"a":0.22},{"f":0.7,"a":0.12},{"f":0.8,"a":0.17},{"f":0.9,"a":0.08},{"f":1.0,"a":0.24},{"f":1.1,"a":0.15},{"f":1.2,"a":0.21},{"f":1.3,"a":0.11},{"f":1.4,"a":0.19},{"f":1.5,"a":0.13},{"f":1.6,"a":0.2},{"f":1.7,"a":0.1},{"f":1.8,"a":0.16},{"f":1.9,"a":0.06},{"f":2.0,"a":0.12},{"f":2.1,"a":0.04},{"f":2.2,"a":0.15},{"f":2.3,"a":0.1},{"f":2.4,"a":0.36},{"f":2.45,"a":0.2},{"f":2.5,"a":1.05},{"f":2.55,"a":0.3},{"f":2.6,"a":1.0},{"f":2.65,"a":0.15},{"f":2.7,"a":0.08},{"f":2.8,"a":0.03},{"f":2.9,"a":0.18},{"f":3.0,"a":0.1},{"f":3.1,"a":0.3},{"f":3.2,"a":0.22},{"f":3.3,"a":0.12},{"f":3.4,"a":0.26},{"f":3.5,"a":0.15},{"f":3.6,"a":0.22},{"f":3.7,"a":0.1},{"f":3.8,"a":0.18},{"f":3.9,"a":0.07},{"f":4.0,"a":0.15},{"f":4.1,"a":0.05},{"f":4.2,"a":0.12},{"f":4.3,"a":0.08},{"f":4.4,"a":0.2},{"f":4.5,"a":0.1},{"f":4.6,"a":0.25},{"f":4.7,"a":0.14},{"f":4.8,"a":0.28},{"f":4.9,"a":0.12},{"f":5.0,"a":0.3},{"f":5.1,"a":0.2},{"f":5.2,"a":0.08},{"f":5.3,"a":0.15},{"f":5.4,"a":0.05},{"f":5.5,"a":0.18},{"f":5.6,"a":0.1},{"f":5.7,"a":0.2},{"f":5.8,"a":0.35},{"f":5.9,"a":0.42},{"f":5.95,"a":0.3},{"f":6.0,"a":1.8},{"f":6.05,"a":0.3},{"f":6.1,"a":0.42},{"f":6.2,"a":0.15},{"f":6.3,"a":0.1},{"f":6.4,"a":0.06},{"f":6.5,"a":0.14},{"f":6.6,"a":0.08},{"f":6.7,"a":0.18},{"f":6.8,"a":0.1},{"f":6.9,"a":0.2},{"f":7.0,"a":0.05},{"f":7.1,"a":0.12},{"f":7.2,"a":0.07},{"f":7.3,"a":0.15},{"f":7.4,"a":0.04},{"f":7.5,"a":0.1},{"f":7.6,"a":0.06},{"f":7.7,"a":0.13},{"f":7.8,"a":0.08},{"f":7.9,"a":0.16},{"f":8.0,"a":0.1},{"f":8.1,"a":0.15},{"f":8.2,"a":0.2},{"f":8.3,"a":0.12},{"f":8.4,"a":0.22},{"f":8.5,"a":0.3},{"f":8.6,"a":0.18},{"f":8.7,"a":0.25},{"f":8.8,"a":0.12},{"f":8.9,"a":0.28},{"f":8.95,"a":0.2},{"f":9.0,"a":1.17},{"f":9.05,"a":0.22},{"f":9.1,"a":0.28},{"f":9.2,"a":0.15},{"f":9.3,"a":0.08},{"f":9.4,"a":0.2},{"f":9.5,"a":0.12},{"f":9.6,"a":0.06},{"f":9.7,"a":0.14},{"f":9.8,"a":0.08},{"f":9.9,"a":0.1},{"f":10.0,"a":0.04},{"f":10.2,"a":0.12},{"f":10.4,"a":0.06},{"f":10.6,"a":0.14},{"f":10.8,"a":0.08},{"f":11.0,"a":0.13},{"f":11.2,"a":0.05},{"f":11.4,"a":0.15},{"f":11.5,"a":0.22},{"f":11.6,"a":0.1},{"f":11.8,"a":0.18},{"f":12.0,"a":0.22},{"f":12.2,"a":0.08},{"f":12.4,"a":0.12},{"f":12.6,"a":0.05},{"f":12.8,"a":0.1},{"f":13.0,"a":0.06},{"f":13.2,"a":0.09},{"f":13.4,"a":0.04},{"f":13.6,"a":0.08},{"f":13.8,"a":0.05},{"f":14.0,"a":0.07},{"f":14.2,"a":0.04},{"f":14.4,"a":0.09},{"f":14.6,"a":0.05},{"f":14.8,"a":0.1},{"f":14.9,"a":0.15},{"f":15.0,"a":0.35},{"f":15.1,"a":0.15},{"f":15.3,"a":0.08},{"f":15.5,"a":0.12},{"f":15.7,"a":0.06},{"f":16.0,"a":0.08},{"f":16.3,"a":0.04},{"f":16.6,"a":0.07},{"f":16.9,"a":0.04},{"f":17.2,"a":0.06},{"f":17.5,"a":0.03},{"f":17.8,"a":0.05},{"f":18.1,"a":0.07},{"f":18.4,"a":0.04},{"f":18.7,"a":0.06},{"f":19.0,"a":0.03},{"f":19.3,"a":0.05},{"f":19.6,"a":0.03},{"f":19.9,"a":0.04},{"f":20.2,"a":0.06},{"f":20.5,"a":0.03},{"f":20.8,"a":0.08},{"f":21.1,"a":0.04},{"f":21.4,"a":0.05},{"f":21.7,"a":0.03},{"f":22.0,"a":0.04},{"f":22.3,"a":0.02},{"f":22.6,"a":0.03},{"f":22.9,"a":0.05},{"f":23.2,"a":0.02},{"f":23.5,"a":0.04},{"f":23.8,"a":0.03},{"f":24.1,"a":0.05},{"f":24.4,"a":0.02},{"f":24.7,"a":0.04},{"f":25.0,"a":0.03},{"f":25.3,"a":0.02},{"f":25.6,"a":0.04},{"f":25.9,"a":0.02},{"f":26.2,"a":0.03},{"f":26.5,"a":0.02},{"f":26.8,"a":0.04},{"f":27.1,"a":0.02},{"f":27.4,"a":0.03},{"f":27.7,"a":0.02},{"f":28.0,"a":0.03},{"f":28.3,"a":0.02},{"f":28.6,"a":0.03},{"f":28.9,"a":0.02},{"f":29.2,"a":0.02}
                  ]},
                  "mark": {"type": "line", "color": "#1b63b4", "strokeWidth": 1.4},
                  "encoding": {
                    "x": {"field": "f", "type": "quantitative", "scale": {"domain": [0, 30], "nice": false}, "axis": {"title": "Frequency (Hz)", "titleFontSize": 32, "titleX": 183, "titleY": 61, "titleBaseline": "alphabetic", "values": [0, 5, 10, 15, 20, 25, 30], "labelFontSize": 22, "labelPadding": 7, "labelFlush": false, "ticks": false, "domain": false}},
                    "y": {"field": "a", "type": "quantitative", "scale": {"domain": [0, 2.15], "range": [156, 0], "nice": false}, "axis": {"orient": "left", "title": "Amplitude (mV)", "titleFontSize": 32, "titleY": 100, "titlePadding": 6, "values": [0, 1, 2], "format": "d", "labelFontSize": 22, "labelPadding": 3, "tickSize": 3, "tickColor": "#000", "domainColor": "#000", "domainWidth": 2.5}}
                  }
                },
                {
                  "data": {"values": [{"f": 0, "f2": 29.3, "a": 0}]},
                  "mark": {"type": "rule", "color": "#000", "strokeWidth": 3},
                  "encoding": {
                    "x": {"field": "f", "type": "quantitative"},
                    "x2": {"field": "f2"},
                    "y": {"field": "a", "type": "quantitative"}
                  }
                }
              ]
            },
            {
              "layer": [
                {
                  "data": {"values": [
{"f":0.0,"b":0.0},{"f":0.05,"b":0.35},{"f":0.1,"b":0.5},{"f":0.15,"b":0.95},{"f":0.2,"b":0.3},{"f":0.3,"b":0.1},{"f":0.4,"b":0.12},{"f":0.5,"b":0.2},{"f":0.55,"b":0.4},{"f":0.6,"b":0.95},{"f":0.65,"b":0.35},{"f":0.7,"b":0.15},{"f":0.8,"b":0.12},{"f":0.9,"b":0.22},{"f":0.95,"b":0.5},{"f":1.0,"b":0.95},{"f":1.05,"b":0.3},{"f":1.1,"b":0.15},{"f":1.2,"b":0.1},{"f":1.4,"b":0.06},{"f":1.7,"b":0.04},{"f":2.0,"b":0.04},{"f":2.2,"b":0.06},{"f":2.35,"b":0.12},{"f":2.45,"b":0.3},{"f":2.5,"b":0.95},{"f":2.55,"b":0.3},{"f":2.65,"b":0.12},{"f":2.8,"b":0.05},{"f":3.1,"b":0.02},{"f":3.4,"b":0.0},{"f":5.2,"b":0.0},{"f":5.5,"b":0.02},{"f":5.7,"b":0.05},{"f":5.85,"b":0.12},{"f":5.95,"b":0.3},{"f":6.0,"b":0.95},{"f":6.05,"b":0.3},{"f":6.15,"b":0.12},{"f":6.3,"b":0.05},{"f":6.5,"b":0.02},{"f":6.8,"b":0.0},{"f":8.2,"b":0.0},{"f":8.5,"b":0.02},{"f":8.7,"b":0.05},{"f":8.85,"b":0.12},{"f":8.95,"b":0.3},{"f":9.0,"b":0.95},{"f":9.05,"b":0.3},{"f":9.15,"b":0.12},{"f":9.3,"b":0.05},{"f":9.5,"b":0.02},{"f":9.8,"b":0.0},{"f":14.2,"b":0.0},{"f":14.5,"b":0.02},{"f":14.7,"b":0.05},{"f":14.85,"b":0.12},{"f":14.95,"b":0.3},{"f":15.0,"b":0.95},{"f":15.05,"b":0.3},{"f":15.15,"b":0.12},{"f":15.3,"b":0.05},{"f":15.5,"b":0.02},{"f":15.8,"b":0.0},{"f":20.2,"b":0.0},{"f":20.5,"b":0.02},{"f":20.7,"b":0.05},{"f":20.85,"b":0.12},{"f":20.95,"b":0.3},{"f":21.0,"b":0.95},{"f":21.05,"b":0.3},{"f":21.15,"b":0.12},{"f":21.3,"b":0.05},{"f":21.5,"b":0.02},{"f":21.8,"b":0.0},{"f":29.3,"b":0.0}
                  ]},
                  "mark": {"type": "area", "color": "#1b63b4", "line": {"color": "#1b63b4", "strokeWidth": 1.2}},
                  "encoding": {
                    "x": {"field": "f", "type": "quantitative"},
                    "y": {"field": "b", "type": "quantitative", "scale": {"domain": [0, 1.1], "range": [247, 165], "nice": false}, "axis": {"orient": "left", "title": null, "labels": false, "ticks": false, "domainColor": "#000", "domainWidth": 2.5}}
                  }
                },
                {
                  "data": {"values": [{"f": 0, "f2": 29.3, "b": 0}]},
                  "mark": {"type": "rule", "color": "#000", "strokeWidth": 3},
                  "encoding": {
                    "x": {"field": "f", "type": "quantitative"},
                    "x2": {"field": "f2"},
                    "y": {"field": "b", "type": "quantitative"}
                  }
                }
              ]
            }
          ]
        }
      ]
    }
  ]
}
